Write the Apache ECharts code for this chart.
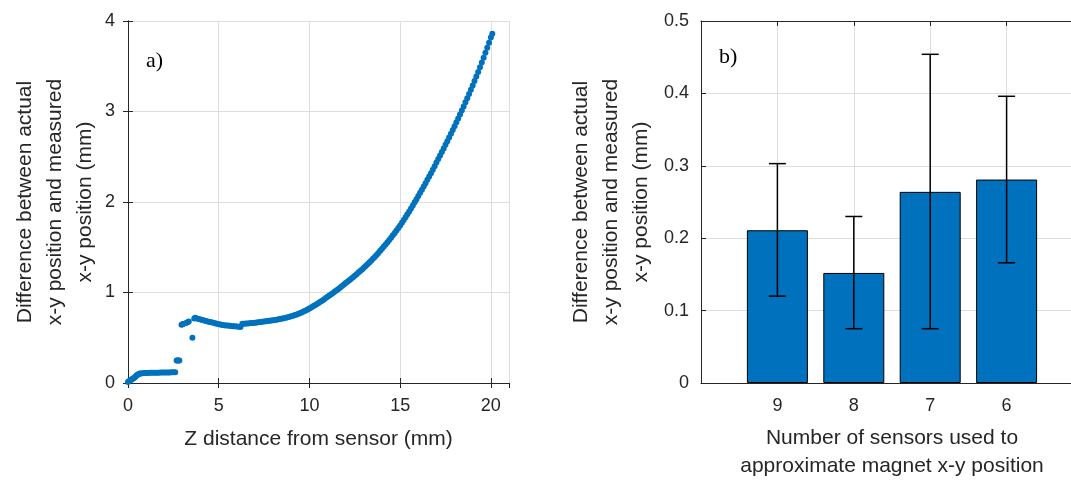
<!DOCTYPE html>
<html>
<head>
<meta charset="utf-8">
<script src="https://cdn.jsdelivr.net/npm/echarts@6/dist/echarts.min.js"></script>
<style>
  html, body { margin: 0; background: #fff; }
  #chart { width: 1071px; height: 481px; }
</style>
</head>
<body>
<div id="chart"></div>
<script>
// a) z distance (mm) vs x-y error (mm)
var curvePoints = [
  [0.00, 0.010], [0.05, 0.018], [0.10, 0.026], [0.15, 0.033], [0.20, 0.040], [0.25, 0.046],
  [0.30, 0.052], [0.35, 0.058], [0.40, 0.070], [0.45, 0.076], [0.50, 0.088], [0.55, 0.094],
  [0.60, 0.100], [0.65, 0.105], [0.70, 0.106], [0.80, 0.108], [0.90, 0.110], [1.00, 0.110],
  [1.10, 0.111], [1.20, 0.112], [1.30, 0.112], [1.40, 0.113], [1.50, 0.113], [1.60, 0.114],
  [1.70, 0.114], [1.80, 0.115], [1.90, 0.115], [2.00, 0.116], [2.10, 0.116], [2.20, 0.117],
  [2.30, 0.117], [2.40, 0.118], [2.50, 0.118], [2.60, 0.120],
  [2.68, 0.248], [2.73, 0.249], [2.78, 0.250], [2.83, 0.250],
  [2.95, 0.645], [3.00, 0.650], [3.05, 0.652], [3.20, 0.662], [3.28, 0.672], [3.35, 0.680],
  [3.55, 0.500],
  [3.65, 0.712], [3.7, 0.720], [3.8, 0.714], [3.9, 0.708],
  [4.0, 0.702], [4.1, 0.696], [4.2, 0.690], [4.3, 0.685], [4.4, 0.680],
  [4.5, 0.675], [4.6, 0.670], [4.7, 0.665], [4.8, 0.660], [4.9, 0.655],
  [5.0, 0.650], [5.1, 0.646], [5.2, 0.642], [5.3, 0.639], [5.4, 0.636],
  [5.5, 0.634], [5.6, 0.632], [5.7, 0.630], [5.8, 0.628], [5.9, 0.626],
  [6.0, 0.624], [6.1, 0.622], [6.2, 0.620], [6.3, 0.655], [6.4, 0.656],
  [6.5, 0.657], [6.6, 0.658], [6.7, 0.660], [6.8, 0.662], [6.9, 0.664],
  [7.0, 0.666], [7.1, 0.668], [7.2, 0.670], [7.3, 0.673], [7.4, 0.676],
  [7.5, 0.679], [7.6, 0.682], [7.7, 0.685], [7.8, 0.688], [7.9, 0.691],
  [8.0, 0.694], [8.1, 0.697], [8.2, 0.700], [8.3, 0.704], [8.4, 0.708],
  [8.5, 0.712], [8.6, 0.716], [8.7, 0.721], [8.8, 0.726], [8.9, 0.732],
  [9.0, 0.738], [9.1, 0.744], [9.2, 0.751], [9.3, 0.758], [9.4, 0.766],
  [9.5, 0.774], [9.6, 0.783], [9.7, 0.792], [9.8, 0.802], [9.9, 0.813],
  [10.0, 0.824], [10.1, 0.835], [10.2, 0.847], [10.3, 0.859], [10.4, 0.871],
  [10.5, 0.884], [10.6, 0.897], [10.7, 0.910], [10.8, 0.924], [10.9, 0.938],
  [11.0, 0.952], [11.1, 0.966], [11.2, 0.980], [11.3, 0.995], [11.4, 1.010],
  [11.5, 1.025], [11.6, 1.040], [11.7, 1.056], [11.8, 1.072], [11.9, 1.088],
  [12.0, 1.104], [12.1, 1.120], [12.2, 1.136], [12.3, 1.152], [12.4, 1.169],
  [12.5, 1.186], [12.6, 1.203], [12.7, 1.220], [12.8, 1.237], [12.9, 1.255],
  [13.0, 1.273], [13.1, 1.292], [13.2, 1.311], [13.3, 1.331], [13.4, 1.351],
  [13.5, 1.372], [13.6, 1.393], [13.7, 1.415], [13.8, 1.437], [13.9, 1.460],
  [14.0, 1.483], [14.1, 1.507], [14.2, 1.531], [14.3, 1.556], [14.4, 1.581],
  [14.5, 1.606], [14.6, 1.632], [14.7, 1.658], [14.8, 1.685], [14.9, 1.712],
  [15.0, 1.740], [15.1, 1.770], [15.2, 1.801], [15.3, 1.832], [15.4, 1.864],
  [15.5, 1.896], [15.6, 1.929], [15.7, 1.962], [15.8, 1.996], [15.9, 2.031],
  [16.0, 2.066], [16.1, 2.101], [16.2, 2.136], [16.3, 2.172], [16.4, 2.208],
  [16.5, 2.245], [16.6, 2.282], [16.7, 2.319], [16.8, 2.357], [16.9, 2.396],
  [17.0, 2.436], [17.1, 2.474], [17.2, 2.513], [17.3, 2.552], [17.4, 2.592],
  [17.5, 2.632], [17.6, 2.672], [17.7, 2.713], [17.8, 2.754], [17.9, 2.795],
  [18.0, 2.837], [18.1, 2.880], [18.2, 2.923], [18.3, 2.967], [18.4, 3.011],
  [18.5, 3.056], [18.6, 3.101], [18.7, 3.147], [18.8, 3.193], [18.9, 3.240],
  [19.0, 3.287], [19.1, 3.336], [19.2, 3.386], [19.3, 3.437], [19.4, 3.489],
  [19.5, 3.542], [19.6, 3.595], [19.7, 3.649], [19.8, 3.704], [19.9, 3.760],
  [20.0, 3.817], [20.08, 3.860]
];

// b) number of sensors vs mean error with error bars
var sensorCounts = ['9', '8', '7', '6'];
var meanError = [0.211, 0.152, 0.264, 0.281];
var errLow = [0.120, 0.075, 0.075, 0.166];
var errHigh = [0.303, 0.230, 0.454, 0.396];

var axisColor = '#262626';
var gridColor = '#dedede';
var blue = '#0072BD';
var sans = '"Liberation Sans", Arial, sans-serif';
var yName = 'Difference between actual\nx-y position and measured\nx-y position (mm)';

function baseAxis(o) {
  var a = {
    type: 'value',
    axisLine: { show: true, lineStyle: { color: axisColor, width: 1 } },
    axisTick: { show: true, inside: true, length: 5, lineStyle: { color: axisColor } },
    axisLabel: { color: axisColor, fontSize: 18, fontFamily: sans },
    splitLine: { show: true, lineStyle: { color: gridColor, width: 1 } },
    nameTextStyle: { color: axisColor, fontSize: 21, fontFamily: sans }
  };
  for (var k in o) a[k] = o[k];
  return a;
}

var myChart = echarts.init(document.getElementById('chart'));

myChart.setOption({
  animation: false,
  backgroundColor: '#fff',
  grid: [
    { left: 128, right: 562, top: 21, bottom: 98, outerBoundsMode: 'none', containLabel: false },
    { left: 701, right: -12, top: 21, bottom: 98, outerBoundsMode: 'none', containLabel: false }
  ],
  xAxis: [
    baseAxis({
      gridIndex: 0, min: 0, max: 21, interval: 5,
      axisLabel: { color: axisColor, fontSize: 18, fontFamily: sans, margin: 14,
        showMaxLabel: false,
        formatter: function (v) { return v % 5 === 0 ? String(v) : ''; } },
      name: 'Z distance from sensor (mm)', nameLocation: 'middle', nameGap: 46
    }),
    baseAxis({
      gridIndex: 0, min: 0, max: 21, interval: 5, position: 'top',
      axisLabel: { show: false }, splitLine: { show: false }
    }),
    baseAxis({
      gridIndex: 1, min: 0, max: 5, interval: 1,
      axisLabel: { color: axisColor, fontSize: 18, fontFamily: sans, margin: 14,
        formatter: function (v) { return sensorCounts[v - 1] || ''; } },
      name: 'Number of sensors used to\napproximate magnet x-y position',
      nameLocation: 'middle', nameGap: 41,
      nameTextStyle: { color: axisColor, fontSize: 21, fontFamily: sans, lineHeight: 28 }
    }),
    baseAxis({
      gridIndex: 1, min: 0, max: 5, interval: 1, position: 'top',
      axisLabel: { show: false }, splitLine: { show: false }
    })
  ],
  yAxis: [
    baseAxis({
      gridIndex: 0, min: 0, max: 4, interval: 1,
      axisLabel: { color: axisColor, fontSize: 18, fontFamily: sans, margin: 13 },
      name: yName, nameLocation: 'middle', nameGap: 28,
      nameTextStyle: { color: axisColor, fontSize: 21, fontFamily: sans, lineHeight: 30 }
    }),
    baseAxis({
      gridIndex: 0, min: 0, max: 4, interval: 1, position: 'right',
      axisLabel: { show: false }, splitLine: { show: false }
    }),
    baseAxis({
      gridIndex: 1, min: 0, max: 0.5, interval: 0.1,
      axisLabel: { color: axisColor, fontSize: 18, fontFamily: sans, margin: 12,
        formatter: function (v) { return String(Math.round(v * 10) / 10); } },
      name: yName, nameLocation: 'middle', nameGap: 45,
      nameTextStyle: { color: axisColor, fontSize: 21, fontFamily: sans, lineHeight: 30 }
    })
  ],
  graphic: [
    { type: 'text', left: 146, top: 50,
      style: { text: 'a)', font: '22px "Liberation Serif", serif', fill: '#000' } },
    { type: 'text', left: 719, top: 46,
      style: { text: 'b)', font: '22px "Liberation Serif", serif', fill: '#000' } }
  ],
  series: [
    {
      type: 'scatter',
      xAxisIndex: 0, yAxisIndex: 0,
      symbolSize: 6,
      itemStyle: { color: blue, opacity: 1 },
      data: curvePoints
    },
    {
      type: 'bar',
      xAxisIndex: 2, yAxisIndex: 2,
      barWidth: 61,
      itemStyle: { color: blue, borderColor: '#000', borderWidth: 1 },
      data: sensorCounts.map(function (c, i) { return [i + 1, meanError[i]]; })
    },
    {
      type: 'custom',
      xAxisIndex: 2, yAxisIndex: 2,
      z: 5,
      encode: { x: 0, y: [1, 2] },
      data: sensorCounts.map(function (c, i) { return [i + 1, errLow[i], errHigh[i]]; }),
      renderItem: function (params, api) {
        var x = api.value(0);
        var lo = api.coord([x, api.value(1)]);
        var hi = api.coord([x, api.value(2)]);
        var half = 8.5;
        var st = { stroke: '#000', lineWidth: 1.5 };
        return {
          type: 'group',
          children: [
            { type: 'line', shape: { x1: lo[0], y1: lo[1], x2: hi[0], y2: hi[1] }, style: st },
            { type: 'line', shape: { x1: hi[0] - half, y1: hi[1], x2: hi[0] + half, y2: hi[1] }, style: st },
            { type: 'line', shape: { x1: lo[0] - half, y1: lo[1], x2: lo[0] + half, y2: lo[1] }, style: st }
          ]
        };
      }
    }
  ]
});
</script>
</body>
</html>
